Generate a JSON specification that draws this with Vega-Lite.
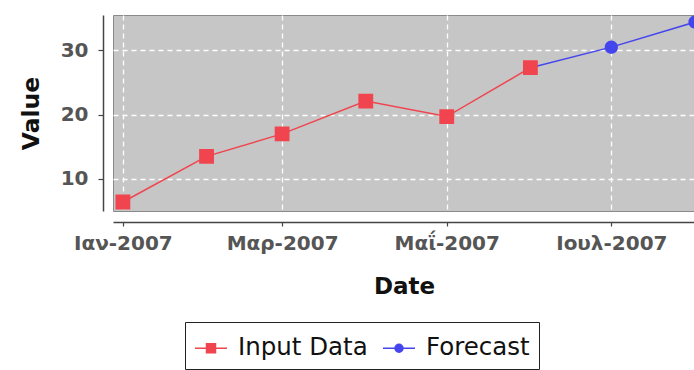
{
  "$schema": "https://vega.github.io/schema/vega-lite/v6.json",
  "autosize": "none",
  "width": 582,
  "height": 196,
  "padding": {"left": 113, "top": 15, "right": 0, "bottom": 159},
  "background": "white",
  "config": {
    "view": {"fill": "#c6c6c6", "stroke": "#8a8a8a", "strokeWidth": 1},
    "font": "DejaVu Sans"
  },
  "data": {
    "values": [
      {"date": "2007-06-01", "value": 27.3, "series": "Forecast"},
      {"date": "2007-07-01", "value": 30.5, "series": "Forecast"},
      {"date": "2007-08-01", "value": 34.4, "series": "Forecast"},
      {"date": "2007-01-01", "value": 6.4, "series": "Input Data"},
      {"date": "2007-02-01", "value": 13.5, "series": "Input Data"},
      {"date": "2007-03-01", "value": 17.0, "series": "Input Data"},
      {"date": "2007-04-01", "value": 22.1, "series": "Input Data"},
      {"date": "2007-05-01", "value": 19.7, "series": "Input Data"},
      {"date": "2007-06-01", "value": 27.3, "series": "Input Data"}
    ]
  },
  "encoding": {
    "x": {
      "field": "date",
      "type": "temporal",
      "scale": {
        "type": "utc",
        "domain": [
          {"year": 2006, "month": 12, "date": 28, "hours": 8, "utc": true},
          {"year": 2007, "month": 8, "date": 1, "hours": 0, "utc": true}
        ]
      },
      "axis": {
        "title": "Date",
        "values": [
          {"year": 2007, "month": 1, "date": 1, "utc": true},
          {"year": 2007, "month": 3, "date": 1, "utc": true},
          {"year": 2007, "month": 5, "date": 1, "utc": true},
          {"year": 2007, "month": 7, "date": 1, "utc": true}
        ],
        "labelExpr": "['Ιαν','Φεβ','Μαρ','Απρ','Μαΐ','Ιουν','Ιουλ','Αυγ','Σεπ','Οκτ','Νοε','Δεκ'][utcmonth(datum.value)] + '-' + utcyear(datum.value)",
        "offset": 11,
        "domainColor": "#444444",
        "domainWidth": 1.5,
        "tickColor": "#444444",
        "tickSize": 4,
        "tickWidth": 1.2,
        "labelFont": "DejaVu Sans",
        "labelFontWeight": "bold",
        "labelFontSize": 20,
        "labelColor": "#555555",
        "labelPadding": 7,
        "labelFlush": false,
        "labelOverlap": false,
        "titleFont": "DejaVu Sans",
        "titleFontWeight": "bold",
        "titleFontSize": 23,
        "titleColor": "#111111",
        "titlePadding": 22,
        "grid": true,
        "gridColor": "white",
        "gridDash": [5, 4],
        "gridWidth": 1.3,
        "gridOpacity": 1
      }
    },
    "y": {
      "field": "value",
      "type": "quantitative",
      "scale": {"domain": [5, 35.5], "nice": false, "zero": false},
      "axis": {
        "title": "Value",
        "values": [10, 20, 30],
        "offset": 10,
        "domainColor": "#444444",
        "domainWidth": 1.5,
        "tickColor": "#444444",
        "tickSize": 5,
        "tickWidth": 1.2,
        "labelFont": "DejaVu Sans",
        "labelFontWeight": "bold",
        "labelFontSize": 20,
        "labelColor": "#555555",
        "labelPadding": 10,
        "titleFont": "DejaVu Sans",
        "titleFontWeight": "bold",
        "titleFontSize": 23.5,
        "titleColor": "#111111",
        "titlePadding": 17,
        "grid": true,
        "gridColor": "white",
        "gridDash": [5, 4],
        "gridWidth": 1.3,
        "gridOpacity": 1
      }
    },
    "color": {
      "field": "series",
      "type": "nominal",
      "scale": {"domain": ["Input Data", "Forecast"], "range": ["#f0454e", "#4545ee"]},
      "legend": {
        "title": null,
        "orient": "none",
        "legendX": 72,
        "legendY": 307,
        "direction": "horizontal",
        "strokeColor": "#222222",
        "fillColor": "white",
        "padding": 9,
        "labelFont": "DejaVu Sans",
        "labelFontSize": 24.5,
        "labelColor": "#111111",
        "labelOffset": 10,
        "columnPadding": 12,
        "symbolSize": 1024,
        "symbolStrokeWidth": 1.5,
        "symbolOpacity": 1,
        "encode": {
          "symbols": {
            "update": {
              "stroke": {"scale": "color", "field": "value"},
              "strokeWidth": {"value": 1.5}
            }
          }
        }
      }
    }
  },
  "layer": [
    {
      "mark": {"type": "line", "strokeWidth": 1.5},
      "encoding": {}
    },
    {
      "mark": {"type": "point", "filled": true, "opacity": 1, "size": 2800},
      "encoding": {
        "shape": {
          "field": "series",
          "type": "nominal",
          "scale": {
            "domain": ["Input Data", "Forecast"],
            "range": [
              "M-1,0H-0.28M0.28,0H1M-0.28,-0.28H0.28V0.28H-0.28Z",
              "M-1,0H-0.25M0.25,0H1M-0.25,0A0.25,0.25 0 1,0 0.25,0A0.25,0.25 0 1,0 -0.25,0Z"
            ]
          },
          "legend": null
        }
      }
    }
  ]
}
